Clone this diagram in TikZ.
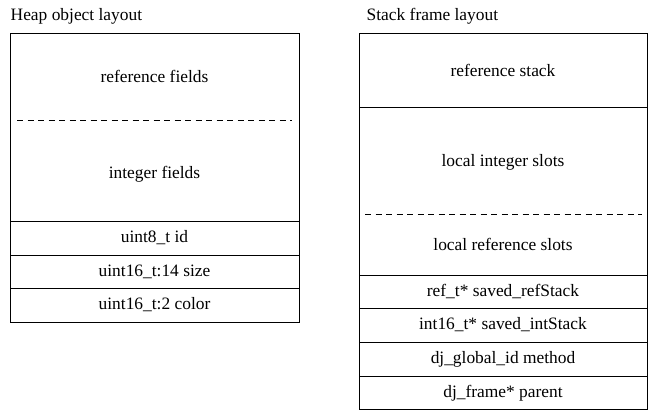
\documentclass[tikz,border=0pt]{standalone}
\usepackage{fontspec}
\setmainfont{Liberation Serif}
\begin{document}
\begin{tikzpicture}[x=1pt,y=-1pt,
  box/.style={draw=black,line width=0.9pt},
  sep/.style={draw=black,line width=0.9pt},
  dsep/.style={draw=black,line width=0.9pt,dash pattern=on 6pt off 4.5pt},
  lbl/.style={inner sep=0pt,font=\fontsize{17.4}{20}\selectfont,anchor=center},
  ttl/.style={inner sep=0pt,font=\fontsize{17.4}{20}\selectfont,anchor=base west}]
\useasboundingbox (0,0) rectangle (649,412);
% Heap object layout
\node[ttl] (heaptitle) at (10.5,21) {Heap object layout};
\draw[box] (10,33) rectangle (299,322);
\draw[dsep] (17,120) -- (292,120);
\draw[sep] (10,221) -- (299,221);
\draw[sep] (10,255) -- (299,255);
\draw[sep] (10,288) -- (299,288);
\node[lbl] (reff) at (154.5,76) {reference fields};
\node[lbl] (intf) at (154.5,174) {integer fields};
\node[lbl] (hid) at (154.5,238) {uint8\_t id};
\node[lbl] (hsize) at (154.5,271.5) {uint16\_t:14 size};
\node[lbl] (hcolor) at (154.5,305) {uint16\_t:2 color};
% Stack frame layout
\node[ttl] (stacktitle) at (366.5,21) {Stack frame layout};
\draw[box] (359,33) rectangle (647.5,409.5);
\draw[sep] (359,107) -- (647.5,107);
\draw[dsep] (365,214) -- (642,214);
\draw[sep] (359,275) -- (647.5,275);
\draw[sep] (359,308) -- (647.5,308);
\draw[sep] (359,342) -- (647.5,342);
\draw[sep] (359,376) -- (647.5,376);
\node[lbl] (rstack) at (503,70) {reference stack};
\node[lbl] (lint) at (503,162) {local integer slots};
\node[lbl] (lref) at (503,244) {local reference slots};
\node[lbl] (srs) at (503,291.5) {ref\_t* saved\_refStack};
\node[lbl] (sis) at (503,325) {int16\_t* saved\_intStack};
\node[lbl] (meth) at (503,359) {dj\_global\_id method};
\node[lbl] (par) at (503,393) {dj\_frame* parent};
\end{tikzpicture}
\end{document}
